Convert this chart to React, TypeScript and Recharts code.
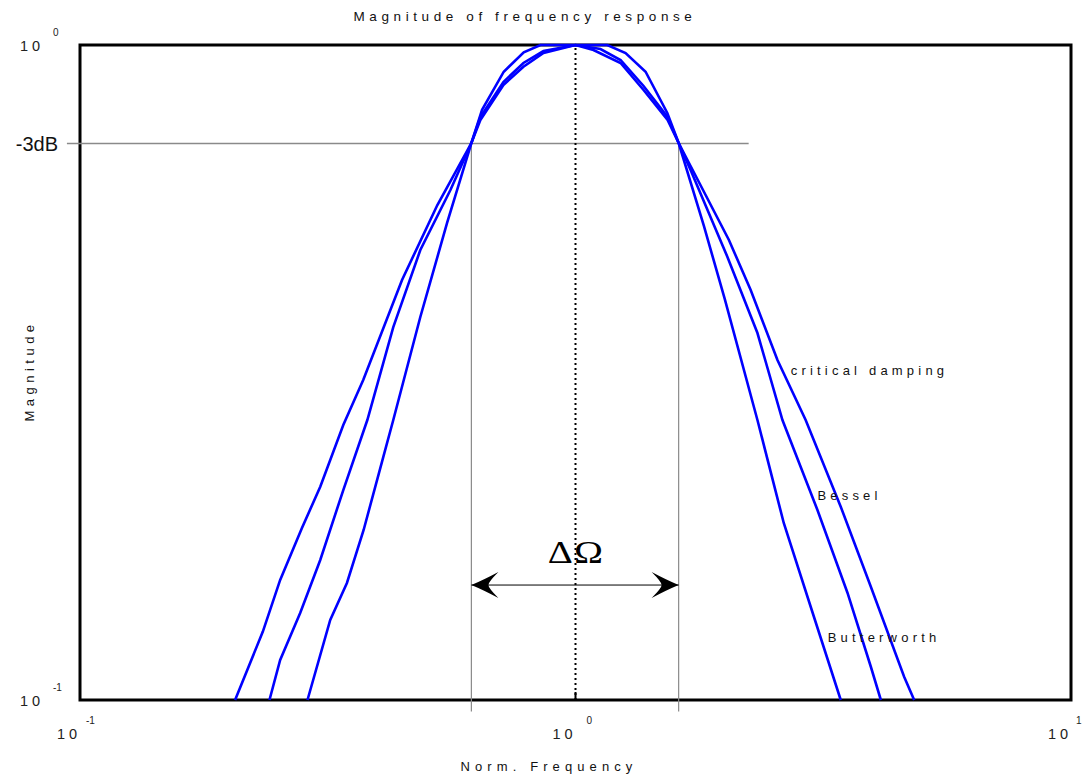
import { LineChart, Line, XAxis, YAxis, ReferenceLine, ReferenceArea, ReferenceDot } from 'recharts'

// values (normalised frequency vs magnitude)
const criticalFreq = [0.2056, 0.2339, 0.2535, 0.2805, 0.3054, 0.3399, 0.3729, 0.4466, 0.5263, 0.6164, 0.6427, 0.7153, 0.7851, 0.8618, 1.0, 1.087, 1.233, 1.372, 1.534, 1.615, 2.04, 2.257, 2.556, 2.914, 3.43, 3.945, 4.605, 4.825]
const criticalMag = [0.1, 0.1272, 0.1525, 0.1831, 0.2116, 0.263, 0.308, 0.4378, 0.5697, 0.7085, 0.7681, 0.8688, 0.9265, 0.9723, 1.0, 0.9826, 0.9387, 0.8537, 0.7681, 0.7085, 0.5038, 0.4226, 0.3304, 0.2676, 0.1973, 0.1489, 0.1085, 0.1]

const besselFreq = [0.2412, 0.2535, 0.2782, 0.3054, 0.3399, 0.3801, 0.4288, 0.4862, 0.5592, 0.6164, 0.6427, 0.7153, 0.7851, 0.8618, 1.0, 1.123, 1.233, 1.372, 1.534, 1.615, 1.707, 2.025, 2.329, 2.616, 3.078, 3.54, 3.945, 4.133]
const besselMag = [0.1, 0.1151, 0.1358, 0.1636, 0.2092, 0.2676, 0.371, 0.4864, 0.6006, 0.7085, 0.7764, 0.8781, 0.9387, 0.979, 1.0, 0.986, 0.9486, 0.8659, 0.7764, 0.7085, 0.6443, 0.4751, 0.3633, 0.2676, 0.195, 0.1457, 0.1124, 0.1]

const butterFreq = [0.2878, 0.3199, 0.3457, 0.3736, 0.4094, 0.4288, 0.4862, 0.5506, 0.6164, 0.6478, 0.7165, 0.7863, 0.8498, 1.0, 1.159, 1.262, 1.385, 1.532, 1.615, 1.816, 2.0, 2.329, 2.632, 2.983, 3.43]
const butterMag = [0.1, 0.1325, 0.1509, 0.1818, 0.2351, 0.2676, 0.3843, 0.535, 0.7085, 0.7961, 0.9104, 0.9747, 1.0, 1.0, 1.0, 0.9723, 0.9104, 0.7876, 0.7085, 0.5293, 0.41, 0.2676, 0.1863, 0.1388, 0.1]

const xTicks = [0.1, 1, 10]
const yTicks = [0.1, 1]
const halfPower = 0.7071 // -3dB
const bandLow = 0.6164
const bandHigh = 1.615
const arrowLevel = 0.1498
const halfPowerLineFrom = 0.0941
const halfPowerLineTo = 2.236
const bandLineBottom = 0.096

const curveLabels = [
  { name: 'critical damping', f: 2.719, m: 0.319 },
  { name: 'Bessel', f: 3.078, m: 0.2056 },
  { name: 'Butterworth', f: 3.229, m: 0.1249 },
]

const toRows = (fs: number[], ms: number[]) => fs.map((f, i) => ({ f, m: ms[i] }))
const critical = toRows(criticalFreq, criticalMag)
const bessel = toRows(besselFreq, besselMag)
const butterworth = toRows(butterFreq, butterMag)

const SANS = 'Liberation Sans, Arial, sans-serif'
const BLUE = '#0000ff'

function XTick({ x, y, payload }: any) {
  const exp = Math.round(Math.log10(payload.value))
  return (
    <g fontFamily={SANS} fill="#222">
      {exp === 0 && <line x1={x} y1={y} x2={x} y2={y - 8} stroke="#000" strokeWidth={2} />}
      <text x={x - 23} y={y + 39} fontSize={14.5} letterSpacing={4}>10</text>
      <text x={x + (exp < 0 ? 6 : exp > 0 ? 5 : 11)} y={y + 24} fontSize={10}>{exp}</text>
    </g>
  )
}

function TopTick({ x, y, payload }: any) {
  if (payload.value !== 1) return <g />
  return <line x1={x} y1={y} x2={x} y2={y + 8} stroke="#000" strokeWidth={2} />
}

function YTick({ x, y, payload }: any) {
  if (payload.value === halfPower) {
    return (
      <text x={x - 22} y={y + 7} textAnchor="end" fontFamily={SANS} fontSize={20} fill="#111">-3dB</text>
    )
  }
  const exp = Math.round(Math.log10(payload.value))
  return (
    <g fontFamily={SANS} fill="#222">
      <text x={x - 60} y={y + 6} fontSize={14.5} letterSpacing={4}>10</text>
      <text x={x - 27} y={y - 9} fontSize={10}>{exp}</text>
    </g>
  )
}

function BandArrow(props: any) {
  const { x1, y1, x2 } = props
  const head = (tip: number, d: number) =>
    `M ${tip} ${y1} Q ${tip + d * 12} ${y1 - 5} ${tip + d * 27} ${y1 - 13} ` +
    `Q ${tip + d * 17} ${y1 - 3} ${tip + d * 17} ${y1} ` +
    `Q ${tip + d * 17} ${y1 + 3} ${tip + d * 27} ${y1 + 13} ` +
    `Q ${tip + d * 12} ${y1 + 5} ${tip} ${y1} Z`
  const left = Math.min(x1, x2)
  const right = Math.max(x1, x2)
  return (
    <g>
      <line x1={left} y1={y1} x2={right} y2={y1} stroke="#000" strokeWidth={1} />
      <path d={head(left, 1)} fill="#000" />
      <path d={head(right, -1)} fill="#000" />
      <text
        x={0}
        y={0}
        transform={`translate(${(left + right) / 2 + 1} ${y1 - 22}) scale(1.22 1)`}
        textAnchor="middle"
        fontFamily="Liberation Serif, Times New Roman, serif"
        fontSize={32}
        letterSpacing={1}
        fill="#000"
      >
        ΔΩ
      </text>
    </g>
  )
}

const curveLabel = (text: string) => (p: any) => {
  const vb = p.viewBox || {}
  return (
    <text x={vb.x} y={vb.y + 5} fontFamily={SANS} fontSize={13} letterSpacing={4.2} fill="#111">{text}</text>
  )
}

export default function App() {
  return (
    <div style={{ position: 'absolute', left: 0, top: 0, background: '#fff' }}>
      <LineChart width={1084} height={776} margin={{ top: 44, right: 13, bottom: 75, left: 79 }}>
        <XAxis
          type="number"
          dataKey="f"
          scale="log"
          domain={[0.1, 10]}
          ticks={xTicks}
          interval={0}
          height={1}
          axisLine={false}
          tickLine={false}
          tickSize={0}
          tickMargin={0}
          tick={<XTick />}
          allowDuplicatedCategory={false}
        />
        <XAxis
          xAxisId="top"
          orientation="top"
          type="number"
          scale="log"
          domain={[0.1, 10]}
          ticks={xTicks}
          interval={0}
          height={1}
          axisLine={false}
          tickLine={false}
          tickSize={0}
          tickMargin={0}
          tick={<TopTick />}
        />
        <YAxis
          type="number"
          dataKey="m"
          scale="log"
          domain={[0.1, 1]}
          ticks={[...yTicks, halfPower]}
          interval={0}
          width={1}
          axisLine={false}
          tickLine={false}
          tickSize={0}
          tickMargin={0}
          tick={<YTick />}
        />

        <ReferenceLine
          segment={[{ x: halfPowerLineFrom, y: halfPower }, { x: halfPowerLineTo, y: halfPower }]}
          stroke="#8a8a8a"
          strokeWidth={1.5}
          ifOverflow="visible"
        />
        <ReferenceLine
          segment={[{ x: bandLow, y: halfPower }, { x: bandLow, y: bandLineBottom }]}
          stroke="#8a8a8a"
          strokeWidth={1.2}
          ifOverflow="visible"
        />
        <ReferenceLine
          segment={[{ x: bandHigh, y: halfPower }, { x: bandHigh, y: bandLineBottom }]}
          stroke="#8a8a8a"
          strokeWidth={1.2}
          ifOverflow="visible"
        />
        <ReferenceLine x={1} stroke="#000" strokeWidth={2} strokeDasharray="2 3" />
        <ReferenceLine
          segment={[{ x: bandLow, y: arrowLevel }, { x: bandHigh, y: arrowLevel }]}
          ifOverflow="visible"
          shape={BandArrow}
        />

        <Line data={critical} dataKey="m" stroke={BLUE} strokeWidth={2.6} dot={false} isAnimationActive={false} />
        <Line data={bessel} dataKey="m" stroke={BLUE} strokeWidth={2.6} dot={false} isAnimationActive={false} />
        <Line data={butterworth} dataKey="m" stroke={BLUE} strokeWidth={2.6} dot={false} isAnimationActive={false} />

        <ReferenceArea x1={0.1} x2={10} y1={0.1} y2={1} fill="none" stroke="#000" strokeWidth={3} />

        {curveLabels.map((c) => (
          <ReferenceDot key={c.name} x={c.f} y={c.m} r={0} fill="none" stroke="none" label={{ content: curveLabel(c.name) }} />
        ))}

        <text x={525} y={21} textAnchor="middle" fontFamily={SANS} fontSize={13.5} letterSpacing={4.6} fill="#111">Magnitude of frequency response</text>
        <text x={549} y={771} textAnchor="middle" fontFamily={SANS} fontSize={13} letterSpacing={5.1} fill="#111">Norm. Frequency</text>
        <text x={0} y={0} transform="translate(34 371) rotate(-90)" textAnchor="middle" fontFamily={SANS} fontSize={13} letterSpacing={4.5} fill="#111">Magnitude</text>
      </LineChart>
    </div>
  )
}
